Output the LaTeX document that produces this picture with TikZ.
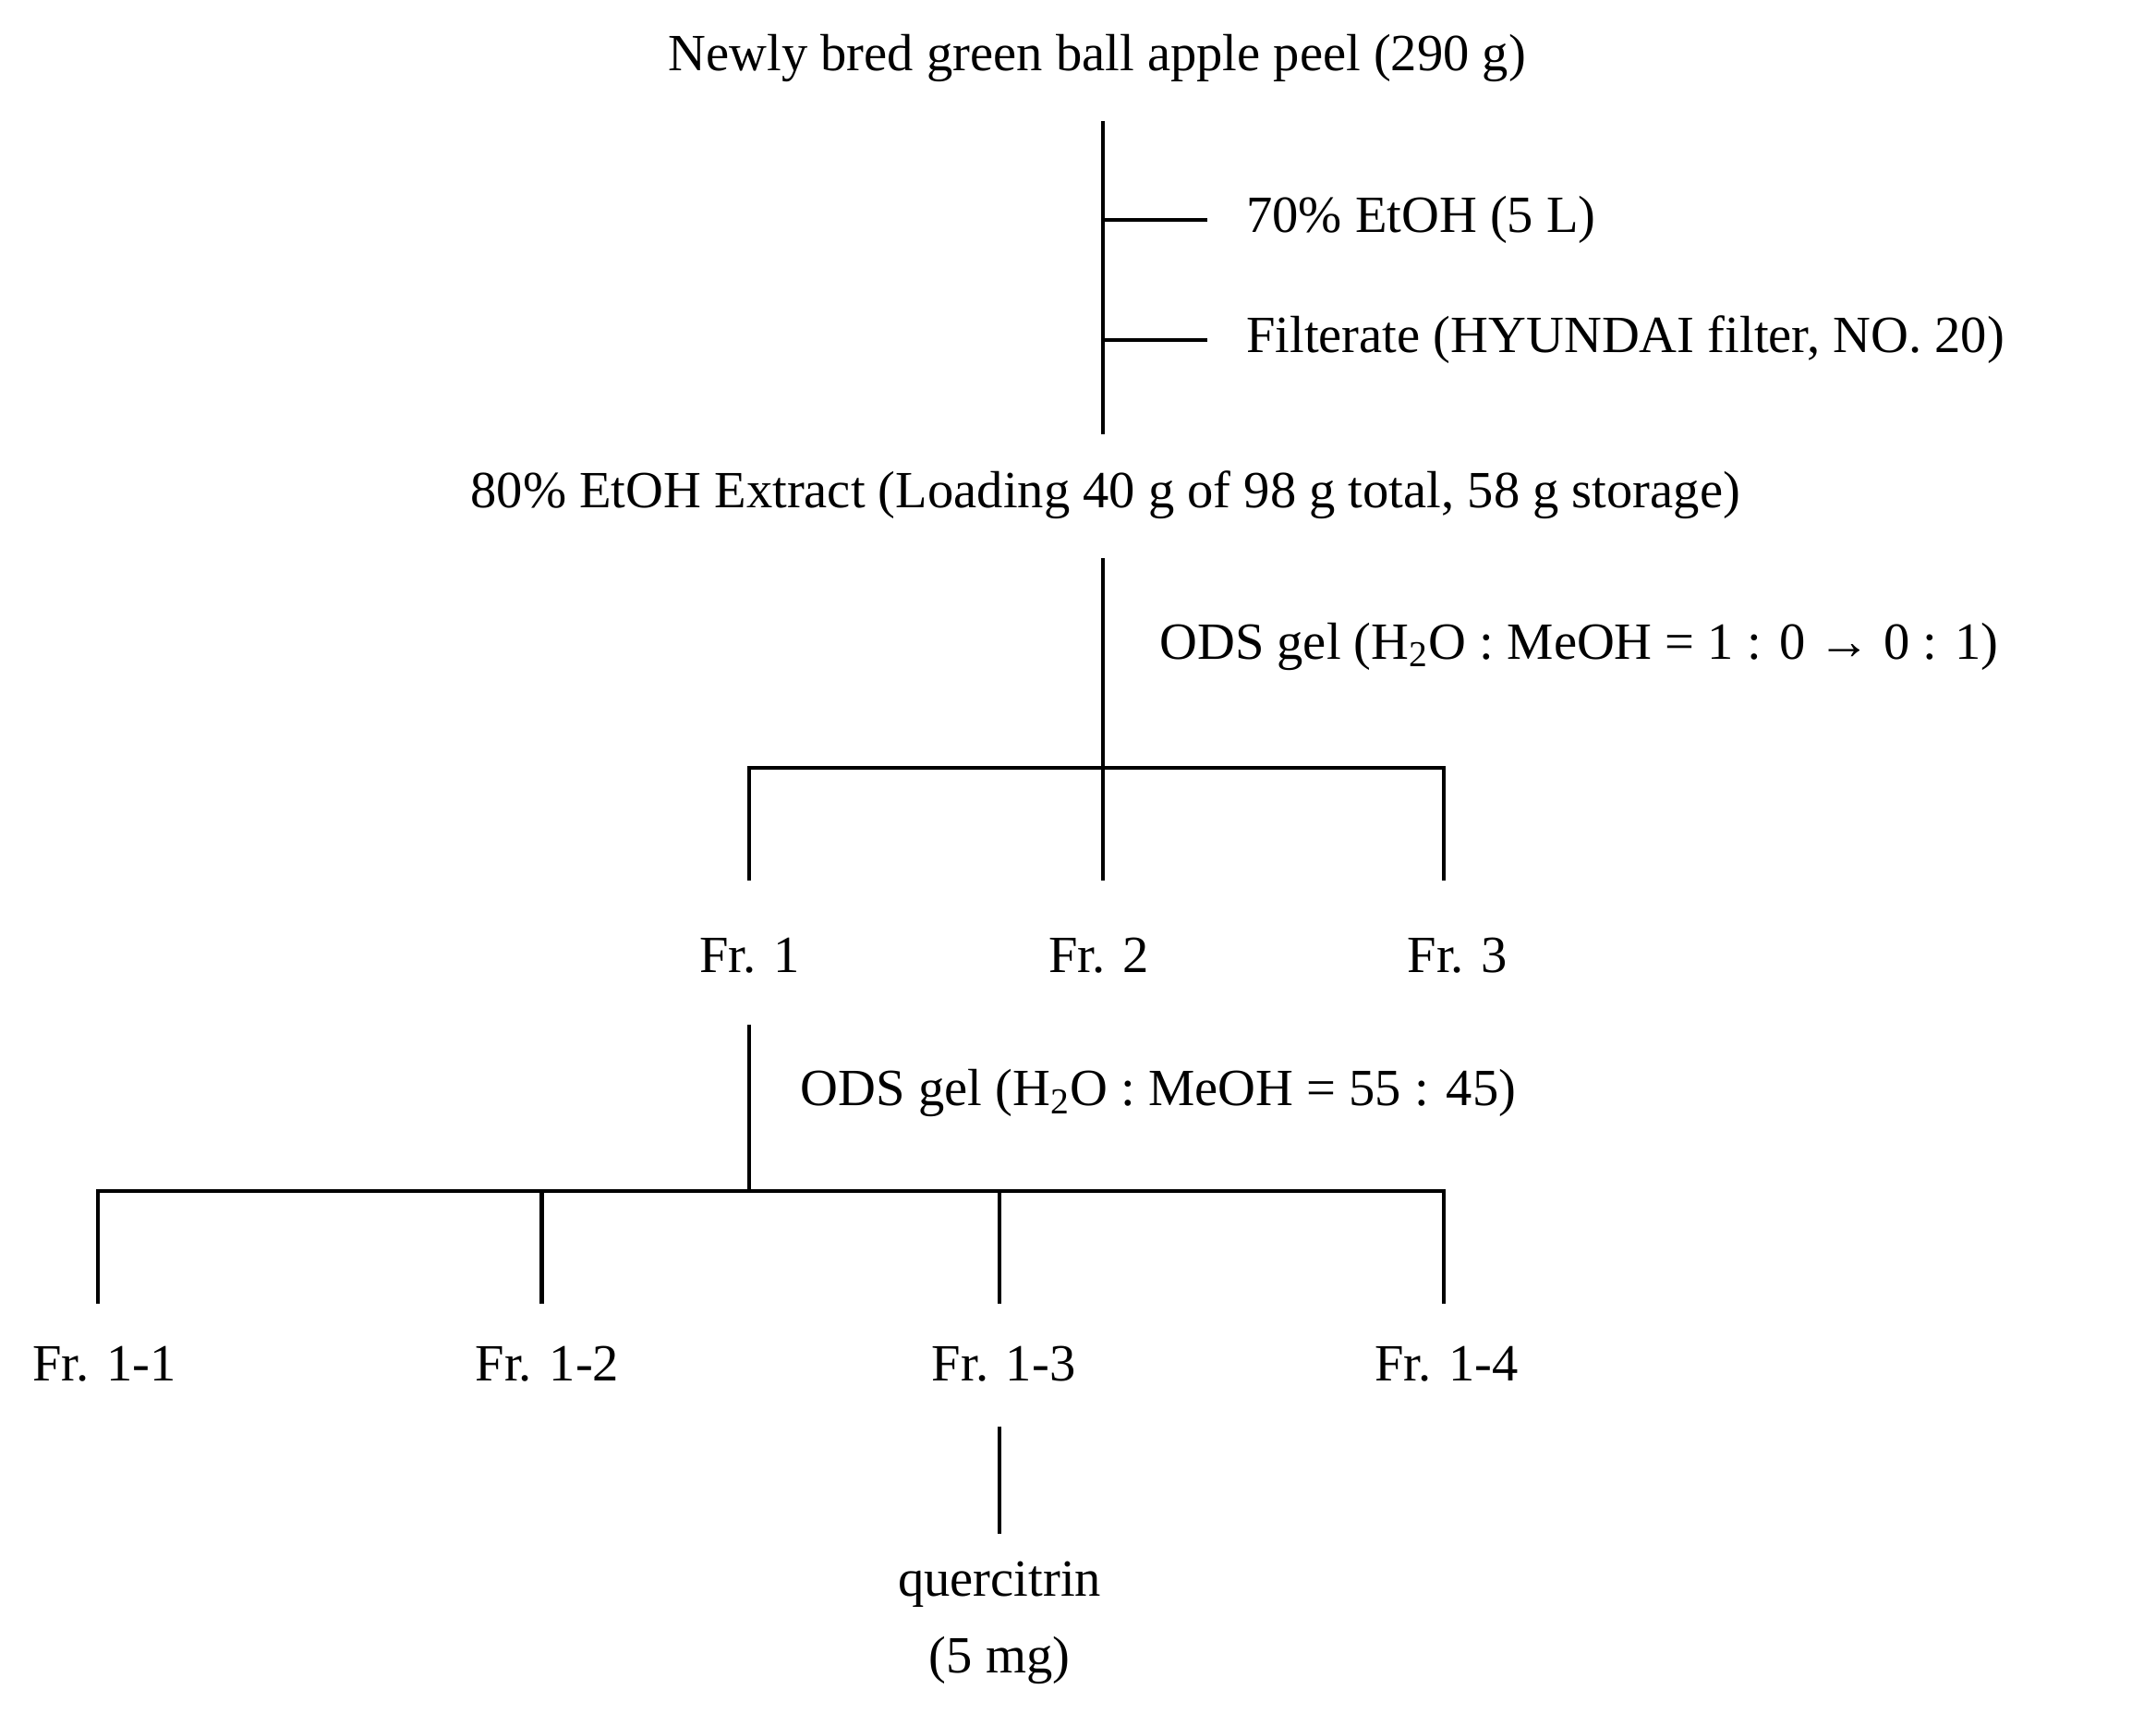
\documentclass[tikz,border=0pt]{standalone}
\usepackage{fontspec}
\setmainfont{Liberation Serif}
\begin{document}
\begin{tikzpicture}[x=0.5pt,y=-0.5pt,
  ln/.style={line width=1.4pt},
  lbl/.style={font=\fontsize{19}{22}\selectfont, inner sep=0pt},
  lbll/.style={lbl, anchor=west}]
\useasboundingbox (0,0) rectangle (1568,1246);
\node[lbl] (top) at (798,42) {Newly bred green ball apple peel (290 g)};
\coordinate (a1) at (802,88); \coordinate (a2) at (802,316);
\draw[ln] (a1) -- (a2);
\coordinate (b1) at (802,160); \coordinate (b2) at (878,160);
\coordinate (c1) at (802,247); \coordinate (c2) at (878,247);
\draw[ln] (b1) -- (b2); \draw[ln] (c1) -- (c2);
\node[lbll] (etoh) at (906,160) {70\% EtOH (5 L)};
\node[lbll] (filt) at (906,247) {Filterate (HYUNDAI filter, NO. 20)};
\node[lbl] (ext) at (804,360) {80\% EtOH Extract (Loading 40 g of 98 g total, 58 g storage)};
\coordinate (d1) at (802,406); \coordinate (d2) at (802,558);
\draw[ln] (d1) -- (d2);
\node[lbll] (ods1) at (843,470) {ODS gel (H\textsubscript{2}O : MeOH = 1 : 0 → 0 : 1)};
\draw[ln] (545,640) -- (545,558) -- (1050,558) -- (1050,640);
\draw[ln] (802,558) -- (802,640);
\node[lbl] (f1) at (545,695) {Fr. 1};
\node[lbl] (f2) at (799,695) {Fr. 2};
\node[lbl] (f3) at (1060,695) {Fr. 3};
\draw[ln] (545,745) -- (545,866);
\node[lbll] (ods2) at (582,795) {ODS gel (H\textsubscript{2}O : MeOH = 55 : 45)};
\draw[ln] (71,948) -- (71,866) -- (1050,866) -- (1050,948);
\draw[ln] (394,866) -- (394,948);
\draw[ln] (727,866) -- (727,948);
\node[lbl] (f11) at (76,992) {Fr. 1-1};
\node[lbl] (f12) at (398,992) {Fr. 1-2};
\node[lbl] (f13) at (730,992) {Fr. 1-3};
\node[lbl] (f14) at (1052,992) {Fr. 1-4};
\draw[ln] (727,1037) -- (727,1115);
\node[lbl] (q) at (727,1152) {quercitrin};
\node[lbl] (q2) at (727,1207) {(5 mg)};
\end{tikzpicture}
\end{document}
